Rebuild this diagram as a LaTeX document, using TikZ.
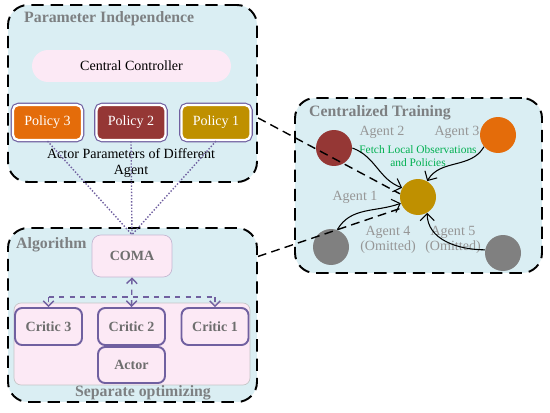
\documentclass[tikz,border=0pt]{standalone}
\usepackage{fontspec}
\setmainfont{Liberation Serif}
\usetikzlibrary{arrows.meta,positioning,calc}
\definecolor{panelblue}{RGB}{218,238,243}
\definecolor{softpink}{RGB}{252,233,245}
\definecolor{framepurple}{RGB}{112,96,160}
\definecolor{comaedge}{RGB}{196,184,210}
\definecolor{titlegray}{RGB}{125,128,130}
\definecolor{critgray}{RGB}{110,110,110}
\definecolor{agentgray}{RGB}{150,150,150}
\definecolor{fetchgreen}{RGB}{0,176,80}
\definecolor{agentred}{RGB}{149,55,53}
\definecolor{agentorange}{RGB}{228,108,10}
\definecolor{agentgold}{RGB}{191,144,0}
\definecolor{agentidle}{RGB}{128,128,128}

\begin{document}
\begin{tikzpicture}[x=0.02cm,y=-0.02cm,
  panel/.style={draw=black,fill=panelblue,line width=1.1pt,
                dash pattern=on 7pt off 4pt,rounded corners=0.4cm},
  paneltitle/.style={anchor=west,font=\fontsize{9}{10}\selectfont\bfseries,
                     text=titlegray},
  policy/.style={rounded corners=3pt,minimum width=1.38cm,minimum height=0.7cm,
                 draw=white,line width=1.3pt,text=white,
                 font=\fontsize{8}{9}\selectfont,
                 preaction={draw=framepurple,line width=2.6pt}},
  critic/.style={draw=framepurple,line width=1.1pt,fill=softpink,
                 rounded corners=4pt,minimum width=1.34cm,minimum height=0.74cm,
                 font=\fontsize{8}{9}\selectfont\bfseries,text=critgray},
  agent/.style={circle,minimum size=0.72cm,inner sep=0pt},
  agentlbl/.style={font=\fontsize{8}{8.5}\selectfont,text=agentgray,align=center},
  flow/.style={-{Straight Barb[length=4pt]},semithick,color=black},
  link/.style={draw=black,line width=0.8pt,dash pattern=on 5pt off 3pt},
  tie/.style={draw=framepurple,densely dotted,thick},
  sync/.style={draw=framepurple,dashed,thick}]
\useasboundingbox (0,0) rectangle (550,412);

% Parameter independence panel
\node[panel,minimum width=4.98cm,minimum height=3.54cm](indep) at (132.5,93.5) {};
\node[paneltitle] at (18,19) {Parameter Independence};
\node[fill=softpink,rounded corners=0.32cm,minimum width=3.98cm,minimum height=0.64cm,
      font=\fontsize{8}{9}\selectfont](ctrl) at (131.5,66) {Central Controller};
\node[policy,fill=agentorange](p3) at (47.5,122.5)  {Policy 3};
\node[policy,fill=agentred](p2)    at (131,122.5)   {Policy 2};
\node[policy,fill=agentgold](p1)   at (216,122.5)   {Policy 1};
\node[font=\fontsize{8}{9.6}\selectfont,align=center](actpar) at (131,163)
  {Actor Parameters of Different\\Agent};

% Algorithm panel
\node[panel,minimum width=4.98cm,minimum height=3.48cm](algo) at (132.5,315) {};
\node[paneltitle] at (10,245) {Algorithm};
\node[draw=comaedge,fill=softpink,rounded corners=5pt,minimum width=1.6cm,
      minimum height=0.84cm,font=\fontsize{8}{9}\selectfont\bfseries,
      text=critgray](coma) at (132,256) {COMA};
\node[draw=gray!45,fill=softpink,rounded corners=4pt,minimum width=4.72cm,
      minimum height=1.64cm](sepbox) at (132,344) {};
\node[critic](c3) at (48.5,326.5)  {Critic 3};
\node[critic](c2) at (131.5,326.5) {Critic 2};
\node[critic](c1) at (215,326.5)   {Critic 1};
\node[critic,minimum height=0.72cm](actor) at (131.5,365) {Actor};
\node[font=\fontsize{9}{10}\selectfont\bfseries,text=titlegray] at (143,393)
  {Separate optimizing};
\coordinate (h3) at ($(c3.north)+(0,-10)$);
\coordinate (h1) at ($(c1.north)+(0,-10)$);
\draw[sync,{Straight Barb[length=3pt]}-{Straight Barb[length=3pt]}] (coma.south) -- (c2.north);
\draw[sync] (h3) -- (h1);
\draw[sync,-{Straight Barb[length=3pt]}] (h3) -- (c3.north);
\draw[sync,-{Straight Barb[length=3pt]}] (h1) -- (c1.north);
\draw[tie] (p3.south) -- (coma.north);
\draw[tie] (p2.south) -- (coma.north);
\draw[tie] (p1.south) -- (coma.north);

% Centralized training panel
\node[panel,minimum width=4.94cm,minimum height=3.5cm](train) at (418.5,185.5) {};
\node[paneltitle] at (303,113) {Centralized Training};
\node[agent,fill=agentred](a2)    at (334,148) {};
\node[agent,fill=agentorange](a3) at (498,135) {};
\node[agent,fill=agentgold](a1)   at (418,197) {};
\node[agent,fill=agentidle](a4)   at (331,247) {};
\node[agent,fill=agentidle](a5)   at (503,253) {};
\node[agentlbl] at (382,132) {Agent 2};
\node[agentlbl] at (457,132) {Agent 3};
\node[agentlbl] at (355,197) {Agent 1};
\node[agentlbl] at (388,239.5) {Agent 4\\(Omitted)};
\node[agentlbl] at (453,239.5) {Agent 5\\(Omitted)};
\node[font=\fontsize{6.5}{7.4}\selectfont,text=fetchgreen,align=center] at (418,156)
  {Fetch Local Observations\\and Policies};
\draw[flow] (a2.east) to[out=-20,in=160] (a1.150);
\draw[flow] (a3.220) to[out=-120,in=60] (a1.60);
\draw[flow] (a4.70) to[out=60,in=200] (a1.200);
\draw[flow] (a5.170) to[out=180,in=-90] (a1.-60);
\draw[link] (indep.-11) -- (a1.170);
\draw[link] (algo.25) -- (a1.215);
\end{tikzpicture}
\end{document}
